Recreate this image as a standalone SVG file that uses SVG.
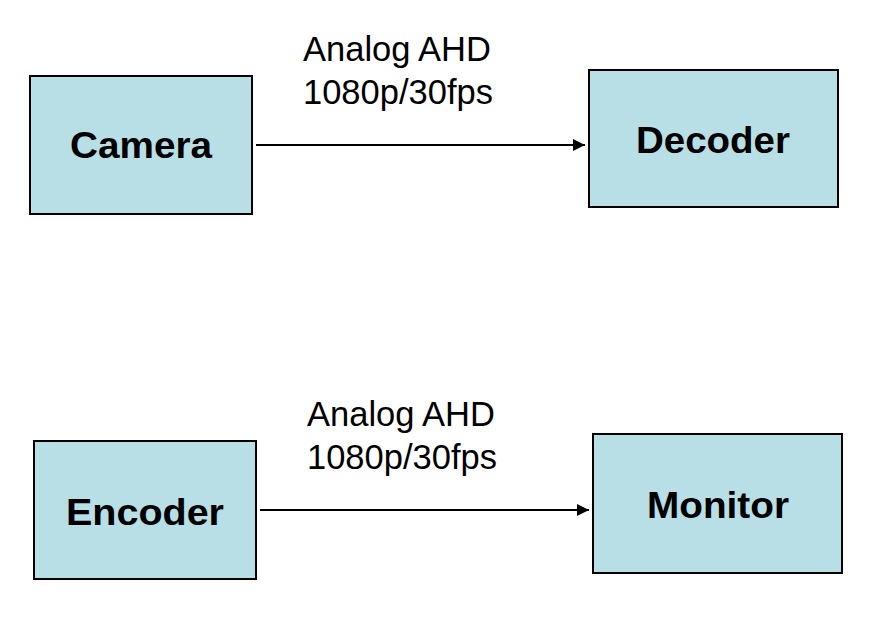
<svg xmlns="http://www.w3.org/2000/svg" width="886" height="622" viewBox="0 0 886 622">
<style>
.box{fill:#B8DFE5;stroke:#000;stroke-width:2}
.lbl{font-family:"Liberation Sans",Arial,sans-serif;font-weight:bold;font-size:37px;fill:#000}
.note{font-family:"Liberation Sans",Arial,sans-serif;font-size:34.5px;fill:#000}
.conn{stroke:#000;stroke-width:2;fill:none}
</style>
<defs>
<marker id="arr" viewBox="0 0 10 10" refX="10" refY="5" markerWidth="6" markerHeight="6" markerUnits="strokeWidth" orient="auto">
<path d="M0,0 L10,5 L0,10 z" fill="#000"/>
</marker>
</defs>
<rect width="886" height="622" fill="#fff"/>
<g id="camera">
<rect class="box" x="30" y="76" width="222" height="138"/>
<text class="lbl" x="70" y="158" textLength="142" lengthAdjust="spacingAndGlyphs">Camera</text>
</g>
<g id="decoder">
<rect class="box" x="589" y="70" width="249" height="137"/>
<text class="lbl" x="636" y="153" textLength="154" lengthAdjust="spacingAndGlyphs">Decoder</text>
</g>
<g id="encoder">
<rect class="box" x="34" y="441" width="222" height="138"/>
<text class="lbl" x="66" y="525" textLength="158" lengthAdjust="spacingAndGlyphs">Encoder</text>
</g>
<g id="monitor">
<rect class="box" x="593" y="434" width="249" height="139"/>
<text class="lbl" x="647" y="518" textLength="142" lengthAdjust="spacingAndGlyphs">Monitor</text>
</g>
<g id="connectors">
<line class="conn" x1="256" y1="145" x2="585" y2="145" marker-end="url(#arr)"/>
<line class="conn" x1="260" y1="510" x2="589" y2="510" marker-end="url(#arr)"/>
<text class="note" x="303" y="61">Analog AHD</text>
<text class="note" x="303" y="104">1080p/30fps</text>
<text class="note" x="307" y="426">Analog AHD</text>
<text class="note" x="307" y="469">1080p/30fps</text>
</g>
</svg>
